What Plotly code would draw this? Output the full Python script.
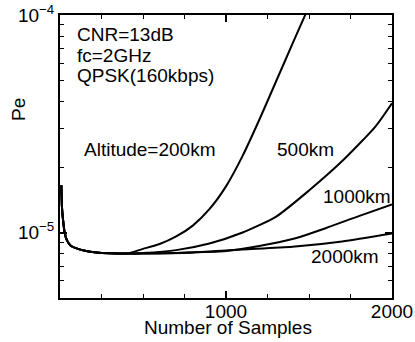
import plotly.graph_objects as go

# shared initial part (all altitudes coincide)
x_common = [8, 12, 18, 28, 42, 65, 100, 150, 220, 300, 400]
y_common = [1.65e-5, 1.3e-5, 1.15e-5, 1.0e-5, 9.2e-6, 8.7e-6, 8.45e-6, 8.25e-6, 8.1e-6, 8.03e-6, 8.0e-6]

x_200 = [500, 600, 700, 800, 900, 1000, 1100, 1200, 1300, 1400, 1500]
y_200 = [8.41e-6, 8.85e-6, 9.59e-6, 1.076e-5, 1.28e-5, 1.63e-5, 2.25e-5, 3.29e-5, 4.92e-5, 7.36e-5, 1.096e-4]

x_500 = [500, 700, 900, 1100, 1300, 1500, 1700, 1900, 2000]
y_500 = [8.05e-6, 8.3e-6, 8.9e-6, 1.0e-5, 1.18e-5, 1.56e-5, 2.13e-5, 3.07e-5, 3.93e-5]

x_1000 = [500, 700, 1000, 1200, 1400, 1600, 1800, 2000]
y_1000 = [8.0e-6, 8.05e-6, 8.22e-6, 8.67e-6, 9.33e-6, 1.047e-5, 1.19e-5, 1.345e-5]

x_2000 = [500, 800, 1100, 1400, 1700, 2000]
y_2000 = [8.0e-6, 8.1e-6, 8.35e-6, 8.6e-6, 9.1e-6, 9.9e-6]

series = [("200km", x_200, y_200), ("500km", x_500, y_500),
          ("1000km", x_1000, y_1000), ("2000km", x_2000, y_2000)]

y_ticks = [1e-5, 1e-4]
y_ticktext = ["10<sup>−5</sup>", "10<sup>−4</sup>"]
x_ticks = [1000, 2000]
x_ticktext = ["1000", "2000"]
y_minor = [6e-6, 7e-6, 8e-6, 9e-6] + [k * 1e-5 for k in range(2, 10)]

FONT = "Liberation Sans, Arial, sans-serif"
FS = 19

fig = go.Figure()
for name, xs, ys in series:
    fig.add_trace(go.Scatter(x=x_common + xs, y=y_common + ys, mode="lines",
                             line=dict(color="black", width=2, shape="spline", smoothing=0.6),
                             name=name, showlegend=False, hoverinfo="skip"))

fig.update_layout(
    width=415, height=342,
    margin=dict(l=60, r=23, t=15, b=44),
    paper_bgcolor="white", plot_bgcolor="white",
    font=dict(family=FONT, size=FS, color="black"),
    xaxis=dict(range=[0, 2000], tickmode="array", tickvals=x_ticks, ticktext=x_ticktext,
               ticks="inside", ticklen=7, tickwidth=1.5, tickcolor="black",
               showline=True, linecolor="black", linewidth=2, mirror="ticks",
               showgrid=False, zeroline=False, automargin=False,
               ticklabeloverflow="allow", ticklabelstandoff=-5,
               minor=dict(tickvals=[250, 500, 750, 1250, 1500, 1750], ticks="inside",
                          ticklen=4, tickcolor="black", tickwidth=1),
               tickfont=dict(size=FS)),
    yaxis=dict(type="log", range=[-5.30103, -4], tickmode="array", tickvals=y_ticks,
               ticktext=y_ticktext,
               ticks="inside", ticklen=7, tickwidth=1.5, tickcolor="black",
               showline=True, linecolor="black", linewidth=2, mirror="ticks",
               showgrid=False, zeroline=False, automargin=False,
               ticklabeloverflow="allow",
               minor=dict(tickvals=y_minor, ticks="inside", ticklen=4,
                          tickcolor="black", tickwidth=1),
               tickfont=dict(size=FS)),
)

ann = dict(showarrow=False, xref="paper", yref="paper", xanchor="center", yanchor="middle",
           font=dict(family=FONT, size=FS, color="black"))
fig.add_annotation(text="Altitude=200km", x=0.271, y=0.525, **ann)
fig.add_annotation(text="500km", x=0.738, y=0.523, **ann)
fig.add_annotation(text="1000km", x=0.896, y=0.357, **ann)
fig.add_annotation(text="2000km", x=0.858, y=0.145, **ann)
fig.add_annotation(text="Pe", x=-0.1235, y=0.668, textangle=-90, **ann)
fig.add_annotation(text="Number of Samples", x=0.506, y=-0.106, **ann)
ann_l = dict(ann, xanchor="left")
for txt, yy in [("CNR=13dB", 0.931), ("fc=2GHz", 0.857), ("QPSK(160kbps)", 0.786)]:
    fig.add_annotation(text=txt, x=0.045, y=yy, **ann_l)

fig.write_html("out.html", config={"displayModeBar": False},
               post_script="document.body.style.margin='0px';document.body.style.overflow='hidden';")
